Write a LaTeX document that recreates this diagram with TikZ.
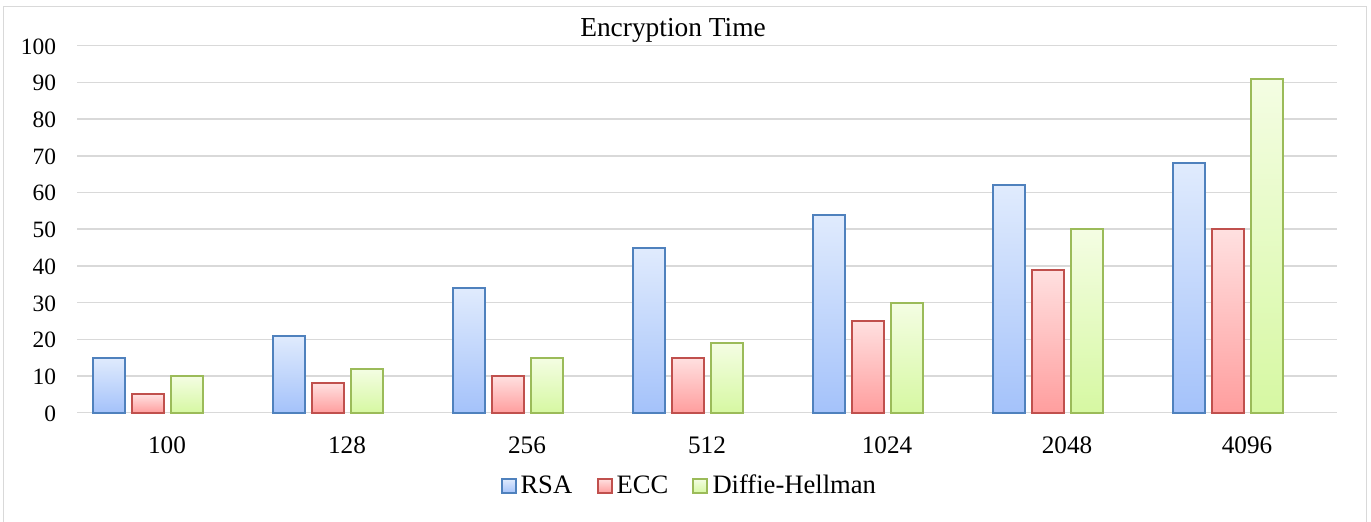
\documentclass[tikz,border=0pt]{standalone}
\usepackage{fontspec}
\setmainfont{Liberation Serif}
\definecolor{gridc}{HTML}{D9D9D9}
\definecolor{framec}{HTML}{D9D9D9}
\definecolor{rsaL}{HTML}{4F81BD}
\definecolor{rsaT}{HTML}{E0EBFD}
\definecolor{rsaB}{HTML}{A4C2FA}
\definecolor{eccL}{HTML}{C0504D}
\definecolor{eccT}{HTML}{FFE0E0}
\definecolor{eccB}{HTML}{FF9E9E}
\definecolor{dhL}{HTML}{9BBB59}
\definecolor{dhT}{HTML}{F4FDE3}
\definecolor{dhB}{HTML}{D6F8A2}
\begin{document}
\begin{tikzpicture}[x=0.5pt,y=-0.5pt,
  gridline/.style={draw=gridc,line width=0.75pt},
  barshadow/.style={fill=black,opacity=0.12},
  rsabar/.style={top color=rsaT,bottom color=rsaB,draw=rsaL,line width=1pt},
  eccbar/.style={top color=eccT,bottom color=eccB,draw=eccL,line width=1pt},
  dhbar/.style={top color=dhT,bottom color=dhB,draw=dhL,line width=1pt},
  lbl/.style={inner sep=0pt,outer sep=0pt},
  ylbl/.style={lbl,anchor=base east,font=\fontsize{11.7}{13}\selectfont},
  xlbl/.style={lbl,anchor=base,font=\fontsize{12.6}{14}\selectfont},
  leglbl/.style={lbl,anchor=base west,font=\fontsize{13.3}{15}\selectfont}]
\useasboundingbox (0,0) rectangle (1371,522);
\fill[white] (0,0) rectangle (1371,522);
\begin{scope}
\clip (0,0) rectangle (1371,522);
\draw[framec,line width=0.8pt] (3.5,6.5) rectangle (1366.5,540);
\end{scope}
% title
\node[lbl,anchor=base,font=\fontsize{13.7}{16}\selectfont] (title) at (673,36.5) {Encryption Time};
% grid and y labels
\foreach \v in {0,10,...,100}{
  \pgfmathsetmacro\yy{412.7-3.67*\v}
  \draw[gridline] (77,\yy) -- (1337,\yy);
  \node[ylbl] (yl\v) at (56,\yy+8.5) {\v};
}
% bars
\foreach \i/\lab/\r/\e/\d in {0/100/15/5/10,1/128/21/8/12,2/256/34/10/15,3/512/45/15/19,4/1024/54/25/30,5/2048/62/39/50,6/4096/68/50/91}{
  \pgfmathsetmacro\cx{167+180*\i}
  \pgfmathsetmacro\yr{412.7-3.67*\r}
  \pgfmathsetmacro\ye{412.7-3.67*\e}
  \pgfmathsetmacro\yd{412.7-3.67*\d}
  \fill[barshadow] ({\cx-74.5+1.5},{\yr+1.5}) rectangle ({\cx-42.5+1.5},414.5);
  \fill[barshadow] ({\cx-35.5+1.5},{\ye+1.5}) rectangle ({\cx-3.5+1.5},414.5);
  \fill[barshadow] ({\cx+3.5+1.5},{\yd+1.5}) rectangle ({\cx+35.5+1.5},414.5);
  \shadedraw[rsabar] ({\cx-74.5},\yr) rectangle ({\cx-42.5},412.7);
  \shadedraw[eccbar] ({\cx-35.5},\ye) rectangle ({\cx-3.5},412.7);
  \shadedraw[dhbar] ({\cx+3.5},\yd) rectangle ({\cx+35.5},412.7);
  \node[xlbl] (xl\i) at (\cx,454) {\lab};
}
% legend
\shadedraw[rsabar] (502,479) rectangle (516,493);
\node[leglbl] (lrsa) at (520.5,494) {RSA};
\shadedraw[eccbar] (597.5,479) rectangle (611.5,493);
\node[leglbl] (lecc) at (616.5,494) {ECC};
\shadedraw[dhbar] (692.5,479) rectangle (706.5,493);
\node[leglbl] (ldh) at (712.5,494) {Diffie-Hellman};
\end{tikzpicture}
\end{document}
